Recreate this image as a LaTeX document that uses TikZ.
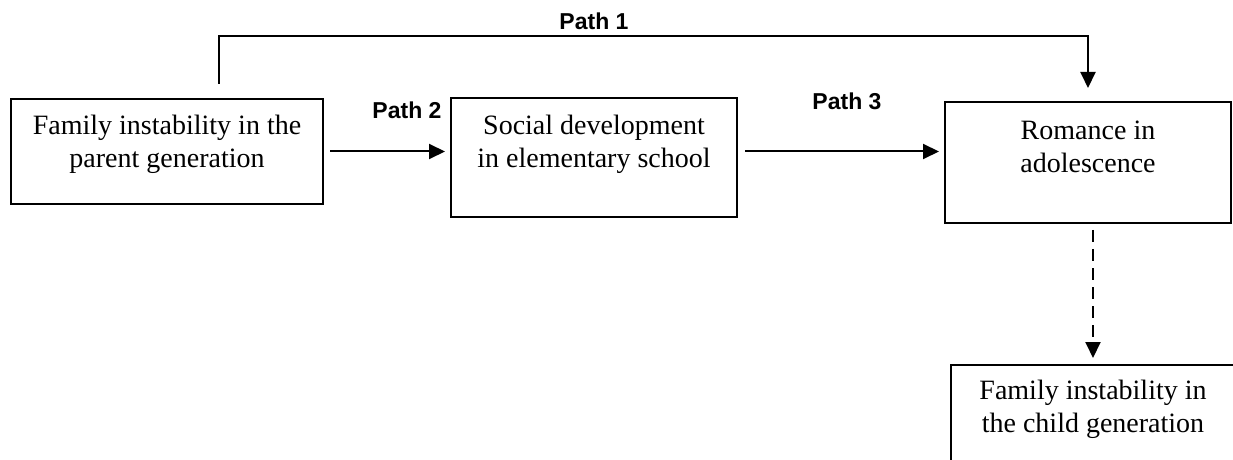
\documentclass[tikz,border=0pt]{standalone}
\usepackage{fontspec}
\setmainfont{Liberation Serif}
\newfontfamily\pathfont{Liberation Sans}
\usetikzlibrary{arrows.meta,calc}
\tikzstyle{box}=[rectangle,draw=black,line width=1pt,inner sep=0pt]
\tikzstyle{txt}=[align=center,inner sep=0pt,
  font=\fontsize{14}{16.5}\selectfont]
\tikzstyle{lbl}=[inner sep=0pt,
  font=\pathfont\bfseries\fontsize{11.5}{13}\selectfont]
\tikzstyle{arr}=[line width=1pt,-{Triangle[length=8pt,width=7.5pt]}]
\tikzstyle{dasharr}=[arr,dash pattern=on 6pt off 3.5pt]
\tikzstyle{none}=[]

\begin{document}
\begin{tikzpicture}[x=0.5pt,y=-0.5pt]
		\clip (0, 0) rectangle (1233, 460);
		\node [style=box,minimum width=156pt,minimum height=52.5pt] (0) at (167, 151.5) {};
		\node [style=box,minimum width=143pt,minimum height=59.5pt] (1) at (594, 157.5) {};
		\node [style=box,minimum width=143pt,minimum height=60.5pt] (2) at (1088, 162.5) {};
		\node [style=box,minimum width=142pt,minimum height=60.5pt] (3) at (1093, 425.5) {};
		\node [style=txt] (4) at (167, 144) {Family instability in the\\parent generation};
		\node [style=txt] (5) at (594, 144) {Social development\\in elementary school};
		\node [style=txt] (6) at (1088, 146.5) {Romance in\\adolescence};
		\node [style=txt] (7) at (1093, 409) {Family instability in\\the child generation};
		\node [style=lbl] (8) at (594, 21) {Path 1};
		\node [style=lbl] (9) at (407, 110) {Path 2};
		\node [style=lbl] (10) at (847, 101) {Path 3};
		\coordinate (11) at (219, 84);
		\coordinate (12) at (1088, 36);
		\draw [style=arr,shorten >=6.5pt] (11) |- (12) -- (2.north);
		\draw [style=arr,shorten <=3pt,shorten >=2.5pt] (0.east) -- (0.east -| 1.west);
		\draw [style=arr,shorten <=3.5pt,shorten >=2.5pt] (1.east |- 0.east) -- (0.east -| 2.west);
		\draw [style=dasharr,shorten <=3pt,shorten >=3pt] (3.north |- 2.south) -- (3.north);
\end{tikzpicture}
\end{document}
